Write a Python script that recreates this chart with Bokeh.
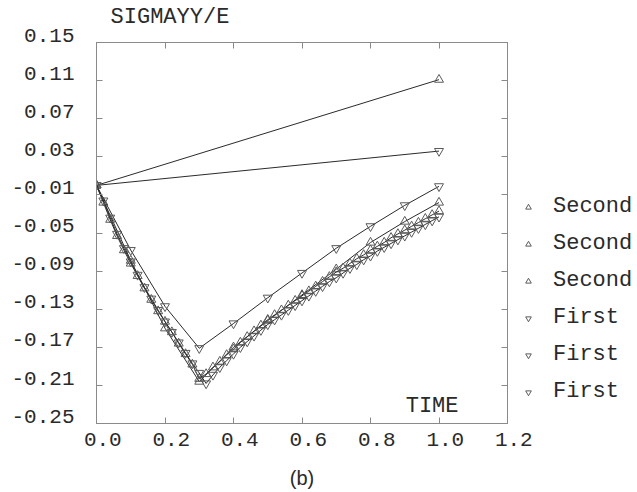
from bokeh.plotting import figure
from bokeh.layouts import row
from bokeh.models import (Range1d, LinearAxis, FixedTicker, CustomJSTickFormatter,
                          Legend, LegendItem, Label)
from bokeh.embed import file_html
from bokeh.resources import INLINE

# ---------------- data ----------------
x_ticks = [0.0, 0.2, 0.4, 0.6, 0.8, 1.0, 1.2]
y_ticks = [-0.25, -0.21, -0.17, -0.13, -0.09, -0.05, -0.01, 0.03, 0.07, 0.11, 0.15]

t_dt1 = [0.0, 1.0]
second_dt1 = [0.0, 0.111]
first_dt1 = [0.0, 0.036]

t_dt01 = [0.0, 0.1, 0.2, 0.3, 0.4, 0.5, 0.6, 0.7, 0.8, 0.9, 1.0]
second_dt01 = [0.0, -0.079, -0.150, -0.206, -0.170, -0.142, -0.115, -0.088, -0.060, -0.038, -0.018]
first_dt01 = [0.0, -0.068, -0.127, -0.171, -0.145, -0.118, -0.092, -0.066, -0.043, -0.021, -0.001]

t_dense = [0.00, 0.02, 0.04, 0.06, 0.08, 0.10, 0.12, 0.14, 0.16, 0.18,
           0.20, 0.22, 0.24, 0.26, 0.28, 0.30, 0.32, 0.34, 0.36, 0.38,
           0.40, 0.42, 0.44, 0.46, 0.48, 0.50, 0.52, 0.54, 0.56, 0.58,
           0.60, 0.62, 0.64, 0.66, 0.68, 0.70, 0.72, 0.74, 0.76, 0.78,
           0.80, 0.82, 0.84, 0.86, 0.88, 0.90, 0.92, 0.94, 0.96, 0.98, 1.00]
second_dense = [0.000, -0.018, -0.036, -0.053, -0.068, -0.082, -0.095, -0.108, -0.120, -0.132,
                -0.143, -0.154, -0.166, -0.177, -0.188, -0.203, -0.198, -0.191, -0.185, -0.178,
                -0.172, -0.165, -0.159, -0.153, -0.147, -0.141, -0.136, -0.131, -0.126, -0.121,
                -0.116, -0.111, -0.106, -0.101, -0.096, -0.091, -0.087, -0.082, -0.077, -0.073,
                -0.068, -0.064, -0.060, -0.055, -0.051, -0.047, -0.043, -0.039, -0.035, -0.031, -0.027]
first_dense = [0.000, -0.016, -0.034, -0.051, -0.066, -0.080, -0.094, -0.107, -0.119, -0.131,
               -0.143, -0.154, -0.165, -0.176, -0.187, -0.197, -0.208, -0.199, -0.191, -0.184,
               -0.177, -0.170, -0.164, -0.158, -0.152, -0.146, -0.141, -0.136, -0.131, -0.126,
               -0.121, -0.116, -0.111, -0.106, -0.101, -0.097, -0.092, -0.087, -0.083, -0.078,
               -0.074, -0.069, -0.065, -0.061, -0.057, -0.053, -0.049, -0.045, -0.041, -0.037, -0.033]

series = [
    ("Second", "triangle", t_dt1, second_dt1),
    ("Second", "triangle", t_dt01, second_dt01),
    ("Second", "triangle", t_dense, second_dense),
    ("First", "inverted_triangle", t_dt1, first_dt1),
    ("First", "inverted_triangle", t_dt01, first_dt01),
    ("First", "inverted_triangle", t_dense, first_dense),
]

y_title = "SIGMAYY/E"

# ---------------- styles ----------------
FONT = "Liberation Mono"
AX = "#8a8a8a"
LINE = "#2a2a2a"
MARK = "#5a5a5a"
TXT = "#2a2a2a"
NBSP = "\u00a0"

MAIN_W = 540
LEG_X = 520
p = figure(width=MAIN_W, height=492, x_range=Range1d(0, 1.2), y_range=Range1d(-0.25, 0.15),
           output_backend="svg", toolbar_location=None,
           x_axis_location=None, y_axis_location=None,
           min_border_left=96, min_border_right=MAIN_W - 507, min_border_top=42, min_border_bottom=69)
p.xgrid.visible = False
p.ygrid.visible = False
p.outline_line_color = AX
p.outline_line_width = 1
p.background_fill_color = "white"
p.border_fill_color = "white"

def tick_axis(ticks):
    ax = LinearAxis(ticker=FixedTicker(ticks=ticks), formatter=CustomJSTickFormatter(code='return "";'))
    ax.major_tick_in = 6
    ax.major_tick_out = 0
    ax.minor_tick_line_color = None
    ax.major_tick_line_color = AX
    ax.axis_line_color = AX
    ax.major_label_text_font_size = "1px"
    ax.major_label_standoff = 0
    return ax

def label_axis(ticks, code):
    ax = LinearAxis(ticker=FixedTicker(ticks=ticks), formatter=CustomJSTickFormatter(code=code))
    ax.major_tick_line_color = None
    ax.minor_tick_line_color = None
    ax.axis_line_color = None
    ax.major_tick_in = 0
    ax.major_tick_out = 0
    ax.major_label_text_font = FONT
    ax.major_label_text_font_size = "21px"
    ax.major_label_text_color = TXT
    return ax

# left
p.add_layout(tick_axis(y_ticks), "left")
yl = label_axis(y_ticks, 'return tick.toFixed(2) + "\\n\\u00a0";')
yl.major_label_text_line_height = 0.55
yl.major_label_standoff = 22
p.add_layout(yl, "left")
# bottom
p.add_layout(tick_axis(x_ticks), "below")
xl = label_axis(x_ticks, 'return "\\u00a0" + tick.toFixed(1);')
xl.major_label_standoff = 5
xl.axis_label = "(b)"
xl.axis_label_text_font = "Liberation Sans"
xl.axis_label_text_font_size = "20px"
xl.axis_label_text_font_style = "normal"
xl.axis_label_text_color = TXT
xl.axis_label_standoff = 12
p.add_layout(xl, "below")
# top: ticks, and the y-quantity name written above the upper-left corner
top = tick_axis(x_ticks)
top.axis_label = y_title + NBSP * 20
top.axis_label_text_font = FONT
top.axis_label_text_font_size = "22px"
top.axis_label_text_font_style = "normal"
top.axis_label_text_color = TXT
top.axis_label_standoff = 13
p.add_layout(top, "above")
# right ticks only
p.add_layout(tick_axis(y_ticks), "right")

for name, marker, tx, vy in series:
    p.line(tx, vy, line_color=LINE, line_width=1)
    p.scatter(tx, vy, marker=marker, size=9, line_color=MARK, line_width=1,
              fill_color="white", fill_alpha=0.0)

p.add_layout(Label(x=1.057, y=-0.232, text="TIME", text_align="right",
                   text_baseline="alphabetic", text_font=FONT, text_font_size="22px",
                   text_color=TXT))

# ---------------- legend panel (overlaps the main canvas' empty right border) ----------------
lg = figure(width=637 - LEG_X, height=492, output_backend="svg", toolbar_location=None,
            x_axis_location=None, y_axis_location=None,
            min_border_left=0, min_border_right=0, min_border_top=42, min_border_bottom=69,
            x_range=Range1d(0, 1), y_range=Range1d(0, 1))
lg.margin = (0, 0, 0, LEG_X - MAIN_W)
lg.xgrid.visible = False
lg.ygrid.visible = False
lg.outline_line_color = None
lg.background_fill_alpha = 0.0
lg.border_fill_alpha = 0.0

nan = float("nan")
items = []
for name, marker, tx, vy in series:
    r = lg.scatter(x=[nan], y=[nan], marker=marker, size=9, line_color=MARK, line_width=1,
                   fill_color="white", fill_alpha=0.0)
    items.append(LegendItem(label=name, renderers=[r]))

legend = Legend(items=items, location=(1, 19), orientation="vertical",
                border_line_color=None, background_fill_alpha=0.0,
                padding=0, margin=0, spacing=12,
                glyph_width=14, glyph_height=14, label_height=24, label_standoff=18,
                label_text_font=FONT, label_text_font_size="22px", label_text_color=TXT)
lg.add_layout(legend)

layout = row(p, lg, spacing=0)
open("out.html", "w").write(file_html(layout, INLINE))
